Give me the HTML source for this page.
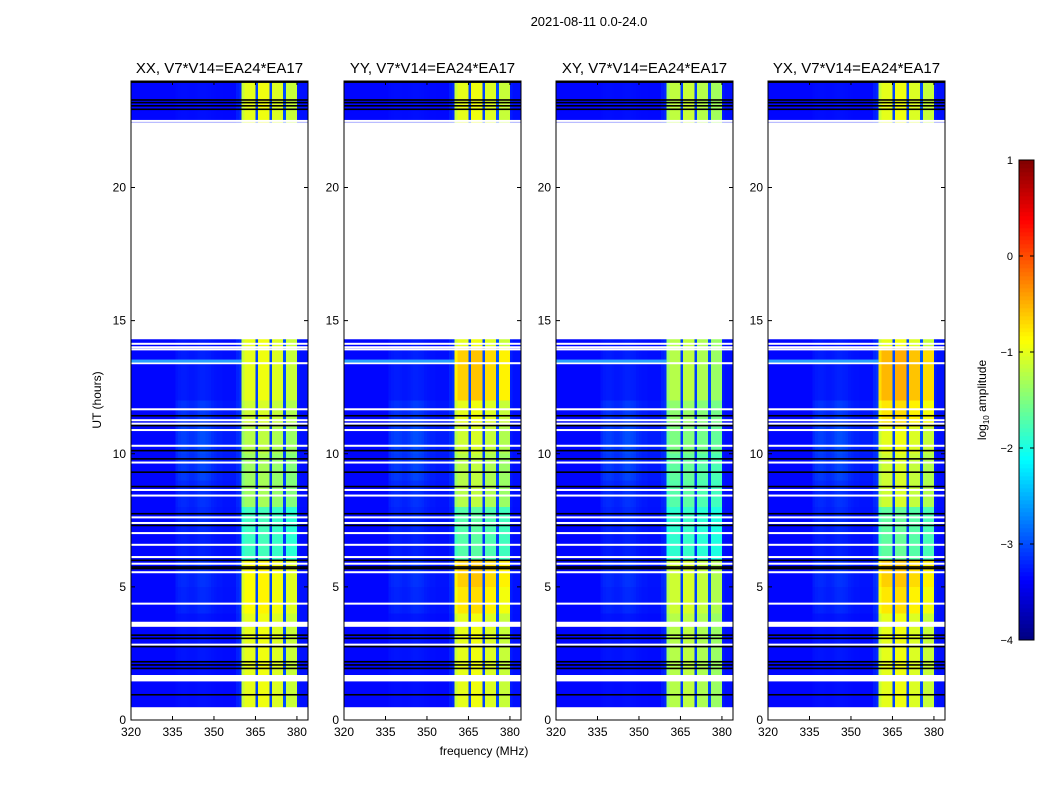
<!DOCTYPE html>
<html><head><meta charset="utf-8">
<style>
body{margin:0;background:#fff;width:1050px;height:800px;overflow:hidden;font-family:"Liberation Sans",sans-serif;}
svg{position:absolute;left:0;top:0}
canvas{position:absolute;image-rendering:pixelated}
</style></head>
<body>
<div id="root"></div>
<script>
// ---- data ----
const panels = ["XX","YY","XY","YX"];
const freqStart = 320, freqEnd = 384;
// excess log amplitude above background per 1 MHz bin (320..383)
const freqProfile = [0,0,0,0,0,0,0,0,0,0, 0,0,0,0,0,0,0,0,0,0, 0,0,0,0,0,0,0,0,0,0, 0,0,0,0,0,0,0,0,0.1,0.15,
  2.2,2.35,2.35,2.35,2.35,0.3,2.4,2.4,2.4,2.4,0.3,2.3,2.3,2.3,2.3,0.35,2.2,2.2,2.2,2.2,0.1,0.05,0.05,0.05];
// broad faint emission profile (320..383)
const humpProfile = [0,0,0,0,0,0,0,0,0,0, 0,0,0,0,0,0,0.5,0.7,0.8,0.8, 0.7,0.6,0.6,0.7,0.9,1,1,0.9,0.8,0.6, 0.5,0.4,0.4,0.3,0.3,0.3,0.3,0.3,0.3,0.3,
  0,0,0,0,0,0,0,0,0,0,0,0,0,0,0,0,0,0,0,0,0,0,0,0];
const humpByHour = [0.1,0.1,0.2,0.2,0.4,0.5,0.3,0.4,0.5,0.7,0.8,0.6,0.3,0.3,0.2,0,0,0,0,0,0,0,0.1,0.1];
const background = -3.35;
// band gain per hour, per panel
const bandXX = [1.0,1.0,1.0,1.0,1.05,1.05,0.65,0.65,0.85,0.85,0.9,0.95,1.0,1.0,1.0,0,0,0,0,0,0,0,1.0,1.0];
const bandYY = [1.0,1.0,1.0,1.0,1.1,1.15,0.7,0.7,0.9,0.9,0.95,1.0,1.15,1.15,1.0,0,0,0,0,0,0,0,1.0,1.0];
const bandXY = [0.9,0.9,0.9,0.9,0.95,0.95,0.62,0.62,0.7,0.72,0.78,0.82,0.9,0.9,0.9,0,0,0,0,0,0,0,0.92,0.92];
const bandYX = [1.0,1.0,1.0,1.0,1.1,1.15,0.72,0.72,0.95,0.95,1.0,1.1,1.2,1.2,1.0,0,0,0,0,0,0,0,1.0,1.0];
const bandGains = [bandXX,bandYY,bandXY,bandYX];
// flagged (blank) time ranges in hours
const gaps = [[0,0.48],[1.45,1.69],[3.5,3.69],[14.3,22.45]];
const whiteLines = [11.67,11.26,11.13,10.89,10.3,9.67,8.64,8.43,7.61,7.40,7.02,6.58,6.12,5.87,5.55,4.37,2.83,13.4,13.92,14.0,14.13,22.5];
const blackLines = [11.42,11.05,10.11,9.8,9.3,8.76,7.74,7.3,5.99,5.74,5.68,3.18,3.06,2.75,2.18,2.06,1.93,0.94,23.28,23.18,23.06,22.93,23.95];
const cyanLines = [13.5];
const xTicks = [320,335,350,365,380];
const yTicks = [0,5,10,15,20];
const cbTicks = [1,0,-1,-2,-3,-4];
const cbLabels = ["1","0","\u22121","\u22122","\u22123","\u22124"];

// ---- layout ----
const panelX = [131,344,556,768], panelW = 177, plotTop = 81, plotBottom = 720;
const fx = (p,f)=>panelX[p] + (f-freqStart)/(freqEnd-freqStart)*panelW;
const hy = h=> plotBottom - h/24*(plotBottom-plotTop);

function jet(v){
  let t=(v+4)/5; t=Math.max(0,Math.min(1,t));
  const r=Math.max(0,Math.min(1,1.5-Math.abs(4*t-3)));
  const g=Math.max(0,Math.min(1,1.5-Math.abs(4*t-2)));
  const b=Math.max(0,Math.min(1,1.5-Math.abs(4*t-1)));
  return `rgb(${r*255|0},${g*255|0},${b*255|0})`;
}

const root=document.getElementById('root');
const NS="http://www.w3.org/2000/svg";
const dt=0.1, nRows=240;
panels.forEach((name,p)=>{
  const cv=document.createElement('canvas');
  
  
  const W=freqEnd-freqStart;
  cv.width=W; cv.height=nRows;
  cv.style.left=panelX[p]+'px'; cv.style.top=plotTop+'px';
  cv.style.width=panelW+'px'; cv.style.height=(plotBottom-plotTop)+'px';
  const c=cv.getContext('2d');
  for(let r=0;r<nRows;r++){
    const h=(nRows-1-r)*dt+dt/2;
    const hr=Math.min(23,Math.floor(h));
    for(let j=0;j<W;j++){
      const v=background+freqProfile[j]*bandGains[p][hr]+humpProfile[j]*humpByHour[hr]*0.45;
      c.fillStyle=jet(v); c.fillRect(j,r,1,1);
    }
  }
  root.appendChild(cv);
});

const svg=document.createElementNS(NS,'svg');
svg.setAttribute('width',1050);svg.setAttribute('height',800);
root.appendChild(svg);
function el(tag,attrs,text){const e=document.createElementNS(NS,tag);for(const k in attrs)e.setAttribute(k,attrs[k]);if(text!==undefined)e.textContent=text;svg.appendChild(e);return e;}

panels.forEach((name,p)=>{
  const x0=panelX[p], x1=x0+panelW;
  gaps.forEach(g=>{
    const r=el('rect',{x:x0,y:hy(g[1]),width:panelW,height:hy(g[0])-hy(g[1]),fill:'#fff'});
    
    
  });
  whiteLines.forEach(h=>{const l=el('rect',{x:x0,y:hy(h)-1,width:panelW,height:2,fill:'#fff'});
    });
  blackLines.forEach(h=>{const l=el('rect',{x:x0,y:hy(h)-1,width:panelW,height:1.6,fill:'#000'});
    });
  cyanLines.forEach(h=>{const l=el('rect',{x:x0,y:hy(h)-1,width:fx(p,360)-x0,height:3,fill:'#2aa0ff'});
    });
  const fr=el('rect',{x:x0,y:plotTop,width:panelW,height:plotBottom-plotTop,fill:'none',stroke:'#000','stroke-width':1});
  
  
  const t=el('text',{x:(x0+x1)/2,y:73,'text-anchor':'middle','font-size':15},name+', V7*V14=EA24*EA17');
  
  
  xTicks.forEach(f=>{const x=fx(p,f);
    el('line',{x1:x,y1:plotBottom,x2:x,y2:plotBottom-4,stroke:'#000'});
    el('line',{x1:x,y1:plotTop,x2:x,y2:plotTop+4,stroke:'#000'});
    const l=el('text',{x:x,y:plotBottom+16,'text-anchor':'middle','font-size':12},f);
    });
  yTicks.forEach(h=>{const y=hy(h);
    el('line',{x1:x0,y1:y,x2:x0+4,y2:y,stroke:'#000'});
    el('line',{x1:x1,y1:y,x2:x1-4,y2:y,stroke:'#000'});
    const l=el('text',{x:x0-5,y:y+4,'text-anchor':'end','font-size':12},h);
    });
});
let e;
e=el('text',{x:589,y:26,'text-anchor':'middle','font-size':13},'2021-08-11 0.0-24.0');

e=el('text',{x:484,y:755,'text-anchor':'middle','font-size':12},'frequency (MHz)');

e=el('text',{x:101,y:400,'text-anchor':'middle','font-size':12,transform:'rotate(-90 101 400)'},'UT (hours)');


// colorbar
const cbX=1019,cbW=15,cbTop=160,cbBot=640;
const cv=(v)=>cbBot-(v+4)/5*(cbBot-cbTop);
for(let i=0;i<120;i++){const v=-4+(i+0.5)/120*5;
  el('rect',{x:cbX,y:cv(v)-2.3,width:cbW,height:4.6,fill:jet(v)});}
e=el('rect',{x:cbX,y:cbTop,width:cbW,height:cbBot-cbTop,fill:'none',stroke:'#000'});

cbTicks.forEach((v,i)=>{const y=cv(v);
  el('line',{x1:cbX,y1:y,x2:cbX+4,y2:y,stroke:'#000'});
  el('line',{x1:cbX+cbW,y1:y,x2:cbX+cbW-4,y2:y,stroke:'#000'});
  const l=el('text',{x:1013,y:y+4,'text-anchor':'end','font-size':11},cbLabels[i]);
  });
e=el('text',{x:986,y:400,'text-anchor':'middle','font-size':12,transform:'rotate(-90 986 400)'});
e.innerHTML='log<tspan font-size="8" dy="3">10</tspan><tspan dy="-3"> amplitude</tspan>';

</script>
</body></html>
